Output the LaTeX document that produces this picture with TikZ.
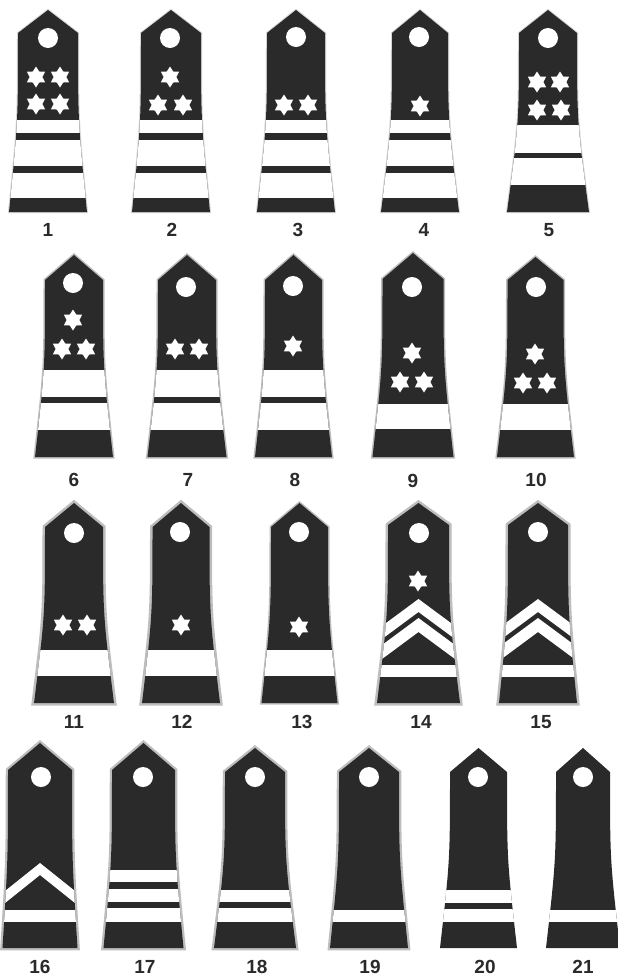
\documentclass[tikz,border=0pt]{standalone}
\usepackage{fontspec}
\setmainfont{Liberation Sans}
\usetikzlibrary{shapes.geometric}
\definecolor{dk}{HTML}{2A2A2A}
\definecolor{bg}{HTML}{BDBDBD}
\definecolor{bgl}{HTML}{D4D4D4}
\tikzset{
 R1/.style={draw=bgl,line width=2},
 R2/.style={draw=bg,line width=3},
 R3/.style={draw=bg,line width=5},
 R4/.style={draw=bg,line width=4.5},
 starw/.style={star, star points=6, star point ratio=1.65, fill=white, draw=none, minimum size=21pt, inner sep=0pt},
 holew/.style={circle, fill=white, draw=none, minimum size=20pt, inner sep=0pt},
 lbl/.style={font=\fontsize{19}{21}\selectfont\bfseries, text=dk}
}
\newcommand\bpath[6]{(#1,#2) -- ({#1+#5},#3) .. controls ({#1+#5},{(#3+#4)/2}) .. ({#1+#6},#4) -- ({#1-#6},#4) .. controls ({#1-#5},{(#3+#4)/2}) .. ({#1-#5},#3) -- cycle}
\newcommand\chev[4]{\fill[white] ({#1-60},{#2+60*#4}) -- (#1,#2) -- ({#1+60},{#2+60*#4}) -- ({#1+60},{#2+60*#4+#3}) -- (#1,{#2+#3}) -- ({#1-60},{#2+60*#4+#3}) -- cycle;}
\newcommand\board[9]{%
 \path[line join=miter,#7] \bpath{#1}{#2}{#3}{#4}{#5}{#6};
 \begin{scope}
 \clip \bpath{#1}{#2}{#3}{#4}{#5}{#6};
 \fill[dk] ({#1-60},{#2-5}) rectangle ({#1+60},{#4+5});
 \foreach \u/\v in {#8} {\fill[white] ({#1-60},\u) rectangle ({#1+60},\v);}
 #9
 \end{scope}}
\begin{document}
\begin{tikzpicture}[x=1pt,y=-1pt]
\useasboundingbox (0,0) rectangle (618,978);
\clip (0,0) rectangle (618,978);
\fill[white] (0,0) rectangle (618,978);
% row 1
\board{48}{10}{33}{212}{30}{39}{R1}{120/133,140/166,173/198}{}
\board{171}{10}{33}{212}{30}{39}{R1}{120/133,140/166,173/198}{}
\board{296}{10}{33}{212}{29}{39}{R1}{120/133,140/166,173/198}{}
\board{420}{10}{33}{212}{28}{39}{R1}{120/133,140/166,173/198}{}
\board{548}{10}{33}{212}{29}{41}{R1}{125/153,158/185}{}
% row 2
\board{74}{255}{280}{457}{29}{39}{R2}{370/397,403/430}{}
\board{187}{255}{280}{457}{29}{39.5}{R2}{370/397,403/430}{}
\board{293.5}{255}{280}{457}{28.5}{38.5}{R2}{370/397,403/430}{}
\board{413}{253}{279}{457}{30.5}{40.5}{R2}{404/429}{}
\board{535.5}{257}{280}{457}{28}{38.5}{R2}{404/430}{}
% row 3
\board{74}{503}{527}{703}{29}{40}{R3}{650/676}{}
\board{181}{503}{527}{703}{28.5}{39}{R3}{650/676}{}
\board{299.5}{503}{527}{703}{28.5}{38}{R2}{650/676}{}
\board{418.5}{503}{525}{703}{30.5}{41.5}{R3}{665/677}{\chev{418.5}{599}{13}{0.74}\chev{418.5}{618}{14}{0.74}}
\board{538}{503}{525}{703}{30}{39}{R3}{665/677}{\chev{538}{599}{13}{0.74}\chev{538}{618}{14}{0.74}}
% row 4
\board{40}{743}{770}{948}{32}{37.5}{R4}{910/922}{\chev{40}{863}{12}{0.8}}
\board{143.5}{743}{770}{948}{31.5}{40}{R4}{870/882,889/902,908/922}{}
\board{255}{748}{772}{948}{30}{41}{R4}{890/902,908/922}{}
\board{369}{748}{772}{948}{30}{39}{R4}{910/922}{}
\board{478.5}{748}{772}{948}{28.5}{38.5}{draw=none}{890/903,909/922}{}
\board{583}{748}{772}{948}{27}{37}{draw=none}{910/922}{}
% holes
\node[holew] (h1) at (48,38) {};
\node[holew] (h2) at (170,38) {};
\node[holew] (h3) at (296,37) {};
\node[holew] (h4) at (419,37) {};
\node[holew] (h5) at (548,38) {};
\node[holew] (h6) at (73,283) {};
\node[holew] (h7) at (186,287) {};
\node[holew] (h8) at (293,286) {};
\node[holew] (h9) at (412,287) {};
\node[holew] (h10) at (536,287) {};
\node[holew] (h11) at (74,533) {};
\node[holew] (h12) at (180,532) {};
\node[holew] (h13) at (299,532) {};
\node[holew] (h14) at (419,533) {};
\node[holew] (h15) at (538,532) {};
\node[holew] (h16) at (41,777) {};
\node[holew] (h17) at (143,777) {};
\node[holew] (h18) at (255,777) {};
\node[holew] (h19) at (369,777) {};
\node[holew] (h20) at (478,777) {};
\node[holew] (h21) at (583,777) {};
% stars
\node[starw] (s1a) at (36,77) {};
\node[starw] (s1b) at (60,77) {};
\node[starw] (s1c) at (36,104) {};
\node[starw] (s1d) at (60,104) {};
\node[starw] (s2a) at (170,77) {};
\node[starw] (s2b) at (158,105) {};
\node[starw] (s2c) at (183,105) {};
\node[starw] (s3a) at (284,105) {};
\node[starw] (s3b) at (308,105) {};
\node[starw] (s4a) at (420,106) {};
\node[starw] (s5a) at (537,82) {};
\node[starw] (s5b) at (560,82) {};
\node[starw] (s5c) at (537,110) {};
\node[starw] (s5d) at (561,110) {};
\node[starw] (s6a) at (73,320) {};
\node[starw] (s6b) at (62,349) {};
\node[starw] (s6c) at (86,349) {};
\node[starw] (s7a) at (175,349) {};
\node[starw] (s7b) at (199,349) {};
\node[starw] (s8a) at (293,346) {};
\node[starw] (s9a) at (412,353) {};
\node[starw] (s9b) at (400,382) {};
\node[starw] (s9c) at (424,382) {};
\node[starw] (s10a) at (535,354) {};
\node[starw] (s10b) at (523,383) {};
\node[starw] (s10c) at (547,383) {};
\node[starw] (s11a) at (63,625) {};
\node[starw] (s11b) at (87,625) {};
\node[starw] (s12a) at (181,625) {};
\node[starw] (s13a) at (299,627) {};
\node[starw] (s14a) at (418,581) {};
% labels
\node[lbl] (l1) at (48,230) {1};
\node[lbl] (l2) at (172,230) {2};
\node[lbl] (l3) at (298,230) {3};
\node[lbl] (l4) at (424,230) {4};
\node[lbl] (l5) at (549,230) {5};
\node[lbl] (l6) at (74,480) {6};
\node[lbl] (l7) at (188,480) {7};
\node[lbl] (l8) at (295,480) {8};
\node[lbl] (l9) at (413,481) {9};
\node[lbl] (l10) at (536,480) {10};
\node[lbl] (l11) at (74,722) {11};
\node[lbl] (l12) at (182,722) {12};
\node[lbl] (l13) at (302,722) {13};
\node[lbl] (l14) at (421,722) {14};
\node[lbl] (l15) at (541,722) {15};
\node[lbl] (l16) at (40,967) {16};
\node[lbl] (l17) at (145,967) {17};
\node[lbl] (l18) at (257,967) {18};
\node[lbl] (l19) at (370,967) {19};
\node[lbl] (l20) at (485,967) {20};
\node[lbl] (l21) at (583,967) {21};
\end{tikzpicture}
\end{document}
